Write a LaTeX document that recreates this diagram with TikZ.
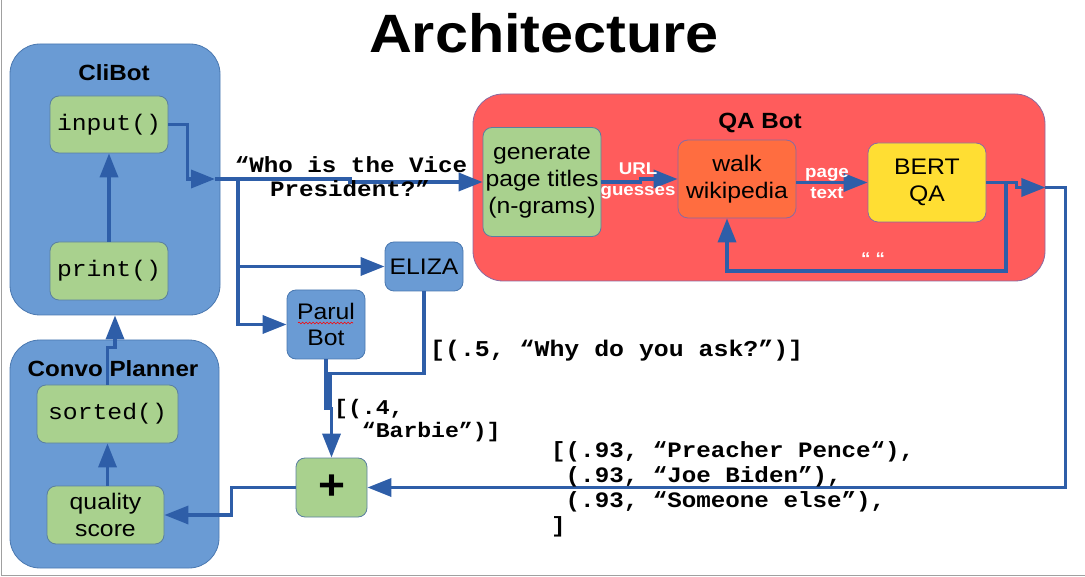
\documentclass[tikz,border=0pt]{standalone}
\usepackage{fontspec}
\setmainfont{Liberation Sans}[FakeStretch=1.1]
\setmonofont{Liberation Mono}[FakeStretch=1.1]
\usetikzlibrary{arrows.meta,decorations.pathmorphing}
\definecolor{cblue}{HTML}{6A9BD4}
\definecolor{cblueline}{HTML}{4A78B0}
\definecolor{cgreen}{HTML}{A9D18E}
\definecolor{cgreenline}{HTML}{5A7FA0}
\definecolor{cred}{HTML}{FF5C5C}
\definecolor{credline}{HTML}{8A6AA0}
\definecolor{corange}{HTML}{FF6D40}
\definecolor{cyellow}{HTML}{FFDE33}
\definecolor{carrow}{HTML}{2E5EA8}
\definecolor{cframe}{HTML}{A0A0A0}
\newcommand\myfs[2]{\fontsize{#1}{#2}\selectfont}
\begin{document}
\begin{tikzpicture}[x=1pt,y=-1pt,
  container/.style={draw=cblueline, line width=0.8pt, fill=cblue, rounded corners=30pt, inner sep=0pt},
  qacontainer/.style={draw=credline, line width=0.8pt, fill=cred, rounded corners=30pt, inner sep=0pt},
  gbox/.style={draw=cgreenline, line width=0.8pt, fill=cgreen, rounded corners=9pt, inner sep=0pt, align=center, font=\myfs{22.5}{27}},
  bbox/.style={draw=cblueline, line width=0.8pt, fill=cblue, rounded corners=9pt, inner sep=0pt, align=center, font=\myfs{22.5}{26}},
  obox/.style={draw=credline, line width=0.8pt, fill=corange, rounded corners=10pt, inner sep=0pt, align=center, font=\myfs{22.5}{27}},
  ybox/.style={draw=credline, line width=0.8pt, fill=cyellow, rounded corners=10pt, inner sep=0pt, align=center, font=\myfs{22.5}{27}},
  codebox/.style={gbox, font=\ttfamily\myfs{22.5}{27}},
  heading/.style={font=\bfseries\myfs{22}{26}, inner sep=0pt, anchor=base},
  wlab/.style={font=\bfseries\myfs{17}{21}, text=white, inner sep=0pt, align=center},
  codetxt/.style={font=\ttfamily\bfseries\myfs{22}{25}, inner sep=0pt, anchor=base west},
  codesmall/.style={font=\ttfamily\bfseries\myfs{21}{23}, inner sep=0pt, anchor=base west},
  qtxt/.style={font=\ttfamily\bfseries\myfs{22}{25}, inner sep=0pt, anchor=base},
  ln/.style={draw=carrow, line width=3.5pt},
  arr/.style={ln, -{Triangle[length=24pt,width=18pt]}}
]
\useasboundingbox (0,0) rectangle (1085,577);
\draw[cframe, line width=1pt] (1,0) -- (1,575) -- (1085,575);

% title
\node[font=\bfseries\myfs{54}{60}, inner sep=0pt, anchor=base] (title) at (544,53) {Architecture};

% containers
\node[container, minimum width=210pt, minimum height=271pt] (clibot) at (115,179.5) {};
\node[heading] (clibotlab) at (114,81) {CliBot};
\node[container, minimum width=209pt, minimum height=228pt] (convo) at (114.5,454) {};
\node[heading] (convolab) at (113,377) {Convo Planner};
\node[qacontainer, minimum width=572pt, minimum height=187pt] (qabot) at (759,187.5) {};
\node[heading] (qalab) at (760,129) {QA Bot};

% inner boxes
\node[codebox, minimum width=118pt, minimum height=57pt] (input) at (109,124.5) {input()};
\node[codebox, minimum width=118pt, minimum height=58pt] (print) at (109,271) {print()};
\node[codebox, minimum width=141pt, minimum height=58pt] (sorted) at (107.5,414) {sorted()};
\node[gbox, minimum width=117pt, minimum height=58pt] (quality) at (105.5,515) {quality\\score};
\node[gbox, minimum width=118pt, minimum height=109pt] (gen) at (542,182) {generate\\page titles\\(n-grams)};
\node[obox, minimum width=118pt, minimum height=78pt] (walk) at (737,179) {walk\\wikipedia};
\node[ybox, minimum width=118pt, minimum height=79pt] (bert) at (927,182.5) {BERT\\QA};
\node[bbox, minimum width=78pt, minimum height=49pt] (eliza) at (424,266.5) {ELIZA};
\node[bbox, minimum width=78pt, minimum height=69pt] (parul) at (326,324.5) {Parul\\Bot};
\draw[red, line width=0.6pt, decorate, decoration={snake, amplitude=0.9pt, segment length=3.5pt}] (298,323) -- (353,323);
\node[gbox, minimum width=71pt, minimum height=59pt, font=\bfseries\myfs{42}{42}] (plus) at (331.5,487.5) {+};

% junction coordinates
\coordinate (hub) at (215,179);
\coordinate (j1) at (238,179);
\coordinate (j2) at (238,266.5);
\coordinate (lp) at (1006,182.5);

% connectors
\draw[arr] (print.north) -- (input.south);
\draw[arr] (input.east) -- ++(19,0) |- (hub);
\draw[arr] (hub) -- (350,179) -- (350,182) -- (gen.west);
\draw[arr] (j1) -- (238,324.5) -- (parul.west);
\draw[arr] (j2) -- (eliza.west);
\draw[ln] (eliza.south) -- ++(0,82) -- ++(-94,0) -- ++(0,36);
\draw[arr] (parul.south) -- ++(0,49) -| (plus.north);
\draw[arr] (plus.west) -- ++(-64,0) |- (quality.east);
\draw[arr] (quality.north -| sorted.south) -- (sorted.south);
\draw[arr] (sorted.north) -- ++(0,-37) -| (clibot.south);
\draw[arr] (gen.east) -- ++(39,0) |- (walk.west);
\draw[arr] (walk.east |- bert.west) -- (bert.west);
\draw[arr] (bert.east) -- ++(30,0) |- (qabot.east);
\draw[arr] (qabot.east) -- ++(20,0) |- (plus.east);
\draw[arr] (lp) -- ++(0,88.5) -| ([xshift=-10pt]walk.south);

% labels
\node[wlab] (urllab) at (638,181) {URL\\guesses};
\node[wlab] (pagelab) at (827,183) {page\\text};
\node[wlab, anchor=base] (emptylab) at (873,265) {“ “};

\node[qtxt] (q1) at (351,173) {“Who is the Vice};
\node[qtxt] (q2) at (350,197) {President?”};

\node[codetxt, font=\ttfamily\bfseries\myfs{22.6}{25}] (elizaout) at (430,357) {[(.5, “Why do you ask?”)]};
\node[codesmall] (parul1) at (334,414) {[(.4,};
\node[codesmall] (parul2) at (334,437) {\hphantom{[(}“Barbie”)]};

\node[codetxt] (qa1) at (551,457) {[(.93, “Preacher Pence“),};
\node[codetxt] (qa2) at (551,482) {\hphantom{[}(.93, “Joe Biden”),};
\node[codetxt] (qa3) at (551,507) {\hphantom{[}(.93, “Someone else”),};
\node[codetxt] (qa4) at (551,532) {]};
\end{tikzpicture}
\end{document}
